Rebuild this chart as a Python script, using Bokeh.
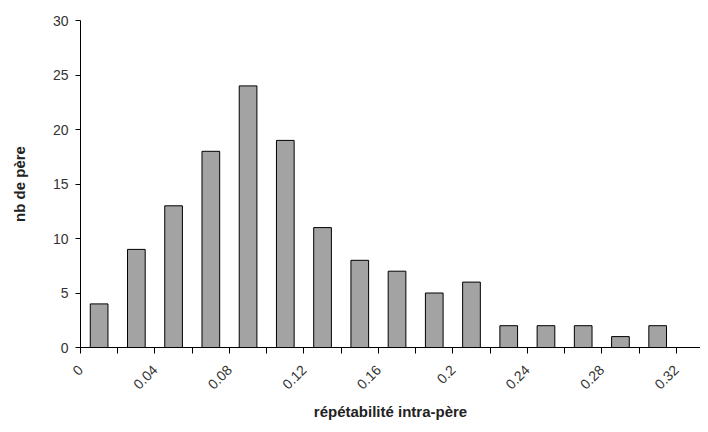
import math
from bokeh.plotting import figure
from bokeh.models import FixedTicker, ColumnDataSource, Range1d
from bokeh.embed import file_html
from bokeh.resources import INLINE

bin_centers = [0.01, 0.03, 0.05, 0.07, 0.09, 0.11, 0.13, 0.15, 0.17, 0.19, 0.21, 0.23, 0.25, 0.27, 0.29, 0.31]
counts = [4, 9, 13, 18, 24, 19, 11, 8, 7, 5, 6, 2, 2, 2, 1, 2]
x_ticks = [round(i * 0.02, 2) for i in range(17)]
x_labels = {0.0: "0", 0.04: "0.04", 0.08: "0.08", 0.12: "0.12", 0.16: "0.16",
            0.2: "0.2", 0.24: "0.24", 0.28: "0.28", 0.32: "0.32"}
y_ticks = [0, 5, 10, 15, 20, 25, 30]

src = ColumnDataSource(dict(x=bin_centers, top=counts))

p = figure(width=700, height=424, output_backend="svg", toolbar_location=None,
           x_range=Range1d(0, 0.333), y_range=Range1d(0, 30),
           min_border_left=80, min_border_right=0, min_border_top=20, min_border_bottom=77)
p.outline_line_color = None
p.grid.visible = False
p.background_fill_color = "white"

p.vbar(x="x", top="top", width=0.0095, bottom=0, source=src,
       fill_color="#a3a3a3", line_color="black", line_width=1)

font = "Liberation Sans"
p.xaxis.ticker = FixedTicker(ticks=x_ticks)
p.xaxis.major_label_overrides = {t: x_labels.get(t, "") for t in x_ticks}
p.xaxis.major_label_orientation = math.pi / 4
p.xaxis.minor_tick_line_color = None
p.xaxis.major_tick_out = 6
p.xaxis.major_tick_in = 0
p.xaxis.major_label_standoff = 14
p.xaxis.axis_label = "répétabilité intra-père"

p.yaxis.ticker = FixedTicker(ticks=y_ticks)
p.yaxis.minor_tick_line_color = None
p.yaxis.major_tick_out = 5
p.yaxis.major_tick_in = 0
p.yaxis.major_label_standoff = 7
p.yaxis.axis_label = "nb de père"

for ax in (p.xaxis[0], p.yaxis[0]):
    ax.axis_line_color = "black"
    ax.major_tick_line_color = "black"
    ax.major_label_text_font = font
    ax.major_label_text_font_size = "14px"
    ax.major_label_text_color = "#333333"
    ax.axis_label_text_font = font
    ax.axis_label_text_font_size = "15px"
    ax.axis_label_text_font_style = "bold"
    ax.axis_label_text_color = "#222222"

p.yaxis.axis_label_standoff = 22
p.xaxis.axis_label_standoff = 6

open("out.html", "w").write(file_html(p, INLINE))
